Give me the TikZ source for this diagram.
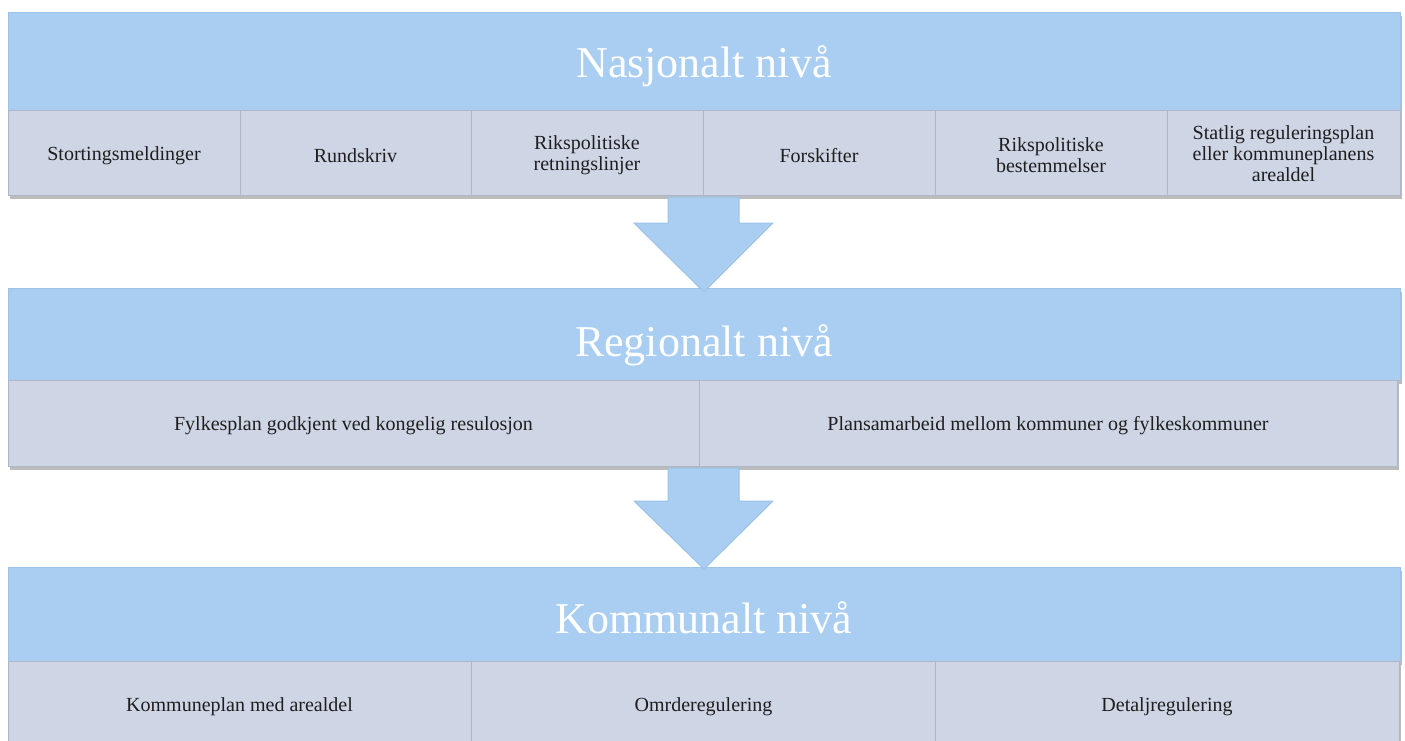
\documentclass[tikz,border=0pt]{standalone}
\usepackage{fontspec}
\setmainfont{Liberation Serif}
\usetikzlibrary{shadows}
\definecolor{hblue}{HTML}{A9CEF2}
\definecolor{hedge}{HTML}{9CC2E8}
\definecolor{sgray}{HTML}{CED5E5}
\definecolor{sedge}{HTML}{AEB6C8}
\definecolor{tdark}{HTML}{1E1E1E}
\newcommand{\lowered}[2]{\raisebox{-#1}[\height][\depth]{#2}}
\tikzset{
  x=1pt, y=-1pt,
  shad/.style={drop shadow={shadow xshift=1.5pt, shadow yshift=-3.5pt, opacity=0.4, fill=black!65}},
  hdr/.style={shad, fill=hblue, draw=hedge, line width=0.5pt, anchor=north west, inner sep=0pt, outer sep=0pt,
    text=white, font=\fontsize{44}{50}\selectfont},
  sub/.style={shad, fill=sgray, draw=sedge, line width=0.7pt, anchor=north west, inner sep=0pt, outer sep=0pt,
    text=tdark, align=center, font=\fontsize{20}{19.5}\selectfont},
  arr/.style={fill=hblue, draw=hedge, line width=1pt, line join=miter}
}
\begin{document}
\begin{tikzpicture}
\useasboundingbox (0,0) rectangle (1405,740);
\clip (0,0) rectangle (1405,740);
\fill[white] (0,0) rectangle (1405,740);
% Nasjonalt
\node[hdr, minimum width=1392pt, minimum height=98pt] (nas) at (8,12) {\lowered{5pt}{Nasjonalt nivå}};
\node[sub, minimum width=232pt, minimum height=85pt] (n1) at (8,110) {\lowered{3pt}{Stortingsmeldinger}};
\node[sub, minimum width=231pt, minimum height=85pt] (n2) at (240,110) {\lowered{3pt}{Rundskriv}};
\node[sub, minimum width=232pt, minimum height=85pt] (n3) at (471,110) {\lowered{3pt}{\shortstack{Rikspolitiske\\retningslinjer}}};
\node[sub, minimum width=232pt, minimum height=85pt] (n4) at (703,110) {\lowered{3pt}{Forskifter}};
\node[sub, minimum width=232pt, minimum height=85pt] (n5) at (935,110) {\lowered{3pt}{\shortstack{Rikspolitiske\\bestemmelser}}};
\node[sub, minimum width=233pt, minimum height=85pt] (n6) at (1167,110) {\lowered{1pt}{\shortstack{Statlig reguleringsplan\\eller kommuneplanens\\arealdel}}};
% Regionalt
\node[hdr, minimum width=1392pt, minimum height=92pt] (reg) at (8,288) {\lowered{11pt}{Regionalt nivå}};
\node[sub, minimum width=691pt, minimum height=86pt] (r1) at (8,380) {\lowered{3pt}{Fylkesplan godkjent ved kongelig resulosjon}};
\node[sub, minimum width=698pt, minimum height=86pt] (r2) at (699,380) {\lowered{3pt}{Plansamarbeid mellom kommuner og fylkeskommuner}};
% Kommunalt
\node[hdr, minimum width=1392pt, minimum height=94pt] (kom) at (8,567) {\lowered{4pt}{Kommunalt nivå}};
\node[sub, minimum width=463pt, minimum height=86pt] (k1) at (8,661) {\lowered{3pt}{Kommuneplan med arealdel}};
\node[sub, minimum width=465pt, minimum height=86pt] (k2) at (471,661) {\lowered{3pt}{Omrderegulering}};
\node[sub, minimum width=464pt, minimum height=86pt] (k3) at (935,661) {\lowered{3pt}{Detaljregulering}};
% arrows
\draw[arr] (668,197) -- (668,223) -- (634,223) -- (704,292) -- (773,223) -- (739,223) -- (739,197) -- cycle;
\draw[arr] (668,468) -- (668,501) -- (634,501) -- (704,569) -- (773,501) -- (739,501) -- (739,468) -- cycle;
\end{tikzpicture}
\end{document}
